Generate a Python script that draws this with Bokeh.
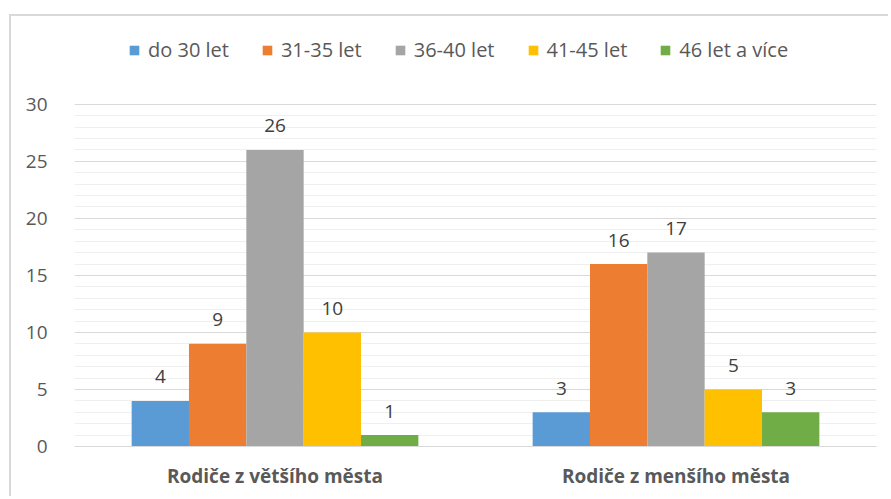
from bokeh.plotting import figure
from bokeh.models import ColumnDataSource, FactorRange, FixedTicker, Legend, LegendItem, Range1d
from bokeh.transform import dodge
from bokeh.embed import file_html
from bokeh.resources import INLINE
from bokeh.core.properties import value

# ---- data ----
categories = ["Rodiče z většího města", "Rodiče z menšího města"]
series_names = ["do 30 let", "31-35 let", "36-40 let", "41-45 let", "46 let a více"]
do_30_let = [4, 3]
let_31_35 = [9, 16]
let_36_40 = [26, 17]
let_41_45 = [10, 5]
let_46_plus = [1, 3]
y_ticks = [0, 5, 10, 15, 20, 25, 30]
y_minor = list(range(0, 31))
colors = ["#5B9BD5", "#ED7D31", "#A5A5A5", "#FFC000", "#70AD47"]

series = [do_30_let, let_31_35, let_36_40, let_41_45, let_46_plus]
keys = ["s0", "s1", "s2", "s3", "s4"]

data = {"cat": categories}
for k, s in zip(keys, series):
    data[k] = s
    data[k + "_lbl"] = [str(v) for v in s]
src = ColumnDataSource(data)

FONT = "Open Sans"
TXT = "#595959"

# y range extends above 30 to leave room for the legend inside the frame
p = figure(x_range=FactorRange(*categories, range_padding=0),
           y_range=Range1d(0, 37),
           width=879, height=482,
           output_backend="svg", toolbar_location=None,
           min_border_left=63, min_border_right=14,
           min_border_top=8, min_border_bottom=52)
p.margin = (14, 0, 0, 9)
p.styles = {"border-left": "2px solid #d9d9d9", "border-top": "2px solid #d9d9d9"}
p.outline_line_color = None
p.background_fill_color = "white"
p.border_fill_color = "white"

bw = 0.143
offsets = [-2 * bw, -bw, 0, bw, 2 * bw]
renderers = []
for k, off, c in zip(keys, offsets, colors):
    r = p.vbar(x=dodge("cat", off, range=p.x_range), top=k, width=bw, source=src,
               fill_color=c, line_color=None)
    renderers.append(r)
    p.text(x=dodge("cat", off, range=p.x_range), y=k, text=k + "_lbl", source=src,
           text_font=value(FONT), text_font_size="19px", text_color="#404040",
           text_align="center", text_baseline="alphabetic", y_offset=-24)

# axes
p.yaxis.ticker = FixedTicker(ticks=y_ticks, minor_ticks=y_minor)
p.yaxis.axis_line_color = None
p.yaxis.major_tick_line_color = None
p.yaxis.minor_tick_line_color = None
p.yaxis.major_label_text_font = FONT
p.yaxis.major_label_text_font_size = "19px"
p.yaxis.major_label_text_color = TXT
p.yaxis.major_label_standoff = 21

p.xaxis.axis_line_color = "#d9d9d9"
p.xaxis.axis_line_width = 1
p.xaxis.major_tick_line_color = None
p.xaxis.minor_tick_line_color = None
p.xaxis.major_label_text_font = FONT
p.xaxis.major_label_text_font_size = "19px"
p.xaxis.major_label_text_font_style = "bold"
p.xaxis.major_label_text_color = TXT
p.xaxis.major_label_standoff = 10

p.xgrid.grid_line_color = None
p.ygrid.grid_line_color = "#d9d9d9"
p.ygrid.grid_line_width = 1
p.ygrid.minor_grid_line_color = "#efefef"
p.ygrid.minor_grid_line_width = 1

legend = Legend(items=[LegendItem(label=n, renderers=[r]) for n, r in zip(series_names, renderers)],
                orientation="horizontal", location=(54, 383),
                glyph_width=12, glyph_height=12, label_standoff=8, spacing=32,
                padding=0, margin=0, border_line_color=None, background_fill_alpha=0,
                label_text_font=FONT, label_text_font_size="20px", label_text_color=TXT)
p.add_layout(legend, "center")

open("out.html", "w").write(file_html(p, INLINE))
